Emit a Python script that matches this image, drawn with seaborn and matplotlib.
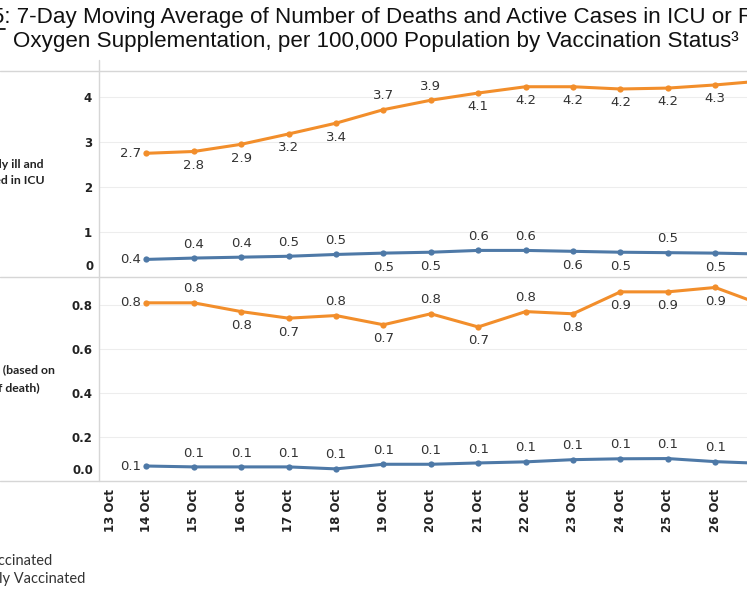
import numpy as np
import pandas as pd
import seaborn as sns
import matplotlib.pyplot as plt
from matplotlib.lines import Line2D
from matplotlib.transforms import ScaledTranslation

# values (14 Oct .. 27 Oct, last point sits past the right edge)
dates = ['13 Oct', '14 Oct', '15 Oct', '16 Oct', '17 Oct', '18 Oct', '19 Oct',
         '20 Oct', '21 Oct', '22 Oct', '23 Oct', '24 Oct', '25 Oct', '26 Oct', '27 Oct']
statuses = ['Unvaccinated', 'Fully Vaccinated']

icu_unvax = [2.74, 2.78, 2.94, 3.17, 3.41, 3.71, 3.92, 4.08, 4.22, 4.22, 4.17, 4.19, 4.26, 4.35]
icu_fully = [0.38, 0.41, 0.43, 0.45, 0.49, 0.52, 0.54, 0.58, 0.58, 0.56, 0.54, 0.53, 0.52, 0.50]
death_unvax = [0.81, 0.81, 0.77, 0.74, 0.752, 0.71, 0.76, 0.70, 0.77, 0.76, 0.86, 0.86, 0.88, 0.80]
death_fully = [0.066, 0.062, 0.062, 0.062, 0.053, 0.074, 0.074, 0.08, 0.085, 0.095, 0.099, 0.10, 0.086, 0.078]

# where Tableau put each mark label: L = left, A = above, B = below
icu_unvax_pos = list('LBBBBAABBBBBBB')
icu_fully_pos = list('LAAAABBAABBABB')
death_unvax_pos = list('LABBABABABBBBB')
death_fully_pos = list('LAAAAAAAAAAAAA')

colors = {'Unvaccinated': '#F28E2B', 'Fully Vaccinated': '#4E79A7'}

W, H = 747, 598
sns.set_theme(style='white')
plt.rcParams['font.family'] = ['DejaVu Sans']

fig = plt.figure(figsize=(W / 100, H / 100), dpi=100)
renderer = fig.canvas.get_renderer()

def px_box(x0, y0, x1, y1):
    # pixel box (top-left origin) -> figure fraction rect
    return [x0 / W, 1 - y1 / H, (x1 - x0) / W, (y1 - y0) / H]

def text_width(s, **kw):
    t = fig.text(0, 0, s, **kw)
    w = t.get_window_extent(renderer).width
    t.remove()
    return w

ax_top = fig.add_axes(px_box(99, 71, 790, 276.5))
ax_bot = fig.add_axes(px_box(99, 276.5, 790, 480.5))

day = np.arange(1, len(icu_unvax) + 1)
tick_kw = dict(fontweight='bold', fontsize=8.5, color='#222222')

def panel(ax, unvax, fully, pos_u, pos_f, ylim, yticks, fmt):
    df = pd.DataFrame({
        'day': np.concatenate([day, day]),
        'value': unvax + fully,
        'status': [statuses[0]] * len(unvax) + [statuses[1]] * len(fully),
    })
    sns.lineplot(data=df, x='day', y='value', hue='status', palette=colors,
                 marker='o', markersize=4.5, markeredgewidth=0, linewidth=2.2,
                 legend=False, ax=ax, clip_on=False)
    for vals, places, st in [(unvax, pos_u, statuses[0]), (fully, pos_f, statuses[1])]:
        for x, v, p in zip(day, vals, places):
            if p == 'L':
                ax.annotate(f'{v:.1f}', (x, v), xytext=(-4, 0), textcoords='offset points',
                            ha='right', va='center', fontsize=9.5, color='#333333')
            else:
                dy = 10 if p == 'A' else -10
                ax.annotate(f'{v:.1f}', (x, v), xytext=(0, dy), textcoords='offset points',
                            ha='center', va='center', fontsize=9.5, color='#333333')
    ax.set_ylim(*ylim)
    ax.set_yticks(yticks[1:])
    ax.set_yticklabels([fmt.format(t) for t in yticks[1:]], **tick_kw)
    # Tableau lifts the bottom tick label inside the pane
    ax.annotate(fmt.format(yticks[0]), (0, yticks[0]), xycoords=ax.get_yaxis_transform(),
                xytext=(-4, 7), textcoords='offset points', ha='right', va='center', **tick_kw)
    ax.yaxis.grid(True, color='#EDEDED', linewidth=0.8)
    ax.xaxis.grid(False)
    ax.tick_params(axis='y', length=0, pad=5)
    ax.set_xlim(0, (790 - 99) / 47.4)
    ax.set_xlabel('')
    ax.set_ylabel('')
    for s in ax.spines.values():
        s.set_visible(False)

panel(ax_top, icu_unvax, icu_fully, icu_unvax_pos, icu_fully_pos,
      (0, 4.57), [0, 1, 2, 3, 4], '{:.0f}')
panel(ax_bot, death_unvax, death_fully, death_unvax_pos, death_fully_pos,
      (0, 0.93), [0.0, 0.2, 0.4, 0.6, 0.8], '{:.1f}')

ax_top.set_xticks([])
ax_bot.set_xticks(range(len(dates)))
ax_bot.set_xticklabels(dates, rotation=90, **tick_kw)
ax_bot.tick_params(axis='x', length=0, pad=6)
first = ax_bot.get_xticklabels()[0]
first.set_transform(first.get_transform() + ScaledTranslation(11 / 100, 0, fig.dpi_scale_trans))

# pane borders
for y in [71, 276.5, 480.5]:
    fig.add_artist(Line2D([0, 1], [1 - y / H, 1 - y / H], color='#D6D6D6', linewidth=1))
fig.add_artist(Line2D([99 / W, 99 / W], [1 - 60 / H, 1 - 480.5 / H], color='#D6D6D6', linewidth=1))

# title (cut on both sides in the original)
title_kw = dict(fontsize=16.15, color='#111111', family=['Liberation Sans'])
line1 = 'Figure 5: 7-Day Moving Average of Number of Deaths and Active Cases in ICU or Requiring'
pre = text_width('Figure 5: 7-Day', **title_kw) - text_width('7-Day', **title_kw)
x0 = 17 - pre
fig.text(x0 / W, 1 - 18 / H, line1, ha='left', va='center', **title_kw)
fig.text(376 / W, 1 - 42 / H,
         'Oxygen Supplementation, per 100,000 Population by Vaccination Status\u00b3',
         ha='center', va='center', **title_kw)
u0 = x0 + text_width('Figure', **title_kw) + 4
u1 = x0 + text_width('Figure 5', **title_kw)
fig.add_artist(Line2D([u0 / W, u1 / W], [1 - 28.5 / H, 1 - 28.5 / H], color='#111111', linewidth=1.3))

# row headers
row_kw = dict(ha='right', va='center', fontsize=8.8, fontweight='bold', color='#222222',
              family=['Lato', 'DejaVu Sans'])
fig.text(43 / W, 1 - 165 / H, 'Critically ill and', **row_kw)
fig.text(45 / W, 1 - 181 / H, 'admitted in ICU', **row_kw)
fig.text(55 / W, 1 - 370 / H, 'Deaths (based on', **row_kw)
fig.text(40 / W, 1 - 388 / H, 'date of death)', **row_kw)

# legend text (markers fall outside the crop)
leg_kw = dict(ha='right', va='center', fontsize=10.5, color='#333333', family=['Lato', 'DejaVu Sans'])
fig.text(53 / W, 1 - 561 / H, 'Unvaccinated', **leg_kw)
fig.text(85 / W, 1 - 579 / H, 'Fully Vaccinated', **leg_kw)

fig.savefig('out.png', dpi=100)
